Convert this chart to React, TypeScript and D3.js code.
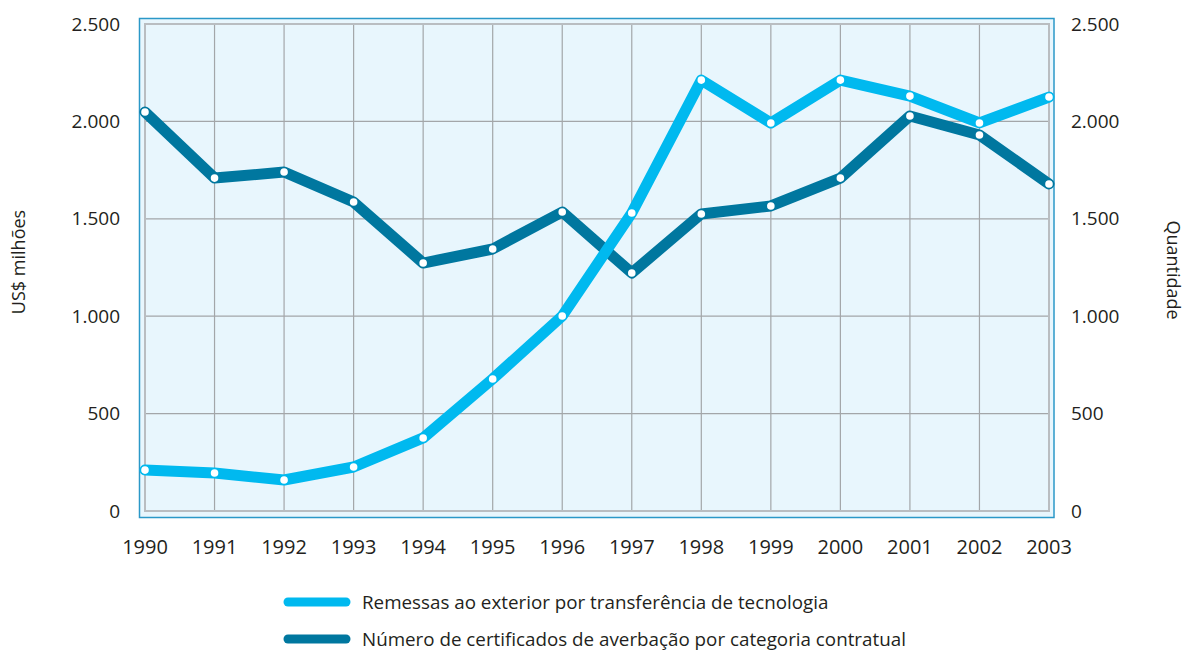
import React from "react";
import * as d3 from "d3";

const years = [1990, 1991, 1992, 1993, 1994, 1995, 1996, 1997, 1998, 1999, 2000, 2001, 2002, 2003];
const remessas = [210, 195, 159, 226, 375, 678, 1001, 1530, 2212, 1992, 2212, 2130, 1992, 2125];
const certificados = [2048, 1709, 1740, 1586, 1273, 1345, 1535, 1222, 1525, 1566, 1709, 2028, 1930, 1679];
const yTicks = [0, 500, 1000, 1500, 2000, 2500];
const seriesNames = [
  "Remessas ao exterior por transferência de tecnologia",
  "Número de certificados de averbação por categoria contratual",
];

const W = 1186;
const H = 651;
const left = 145, right = 1049, top = 24, bottom = 511;
const LIGHT = "#00b9ef";
const DARK = "#00779f";
const FONT = "'Open Sans', sans-serif";
const TEXT = "#231f20";

export default function App() {
  const x = d3.scaleLinear().domain([1990, 2003]).range([left, right]);
  const y = d3.scaleLinear().domain([0, 2500]).range([bottom, top]);
  const fmt = (v: number) => d3.format(",")(v).replace(/,/g, ".");
  const line = d3
    .line<number>()
    .x((_, i) => x(years[i]))
    .y((d) => y(d));

  const series = [
    { data: certificados, color: DARK },
    { data: remessas, color: LIGHT },
  ];

  return (
    <svg width={W} height={H} style={{ position: "absolute", left: 0, top: 0 }} fontFamily={FONT}>
      <rect x={139.5} y={18.5} width={1054 - 139.5} height={517.5 - 18.5} fill="#e8f6fd" stroke="#2b98c8" strokeWidth={1.5} />
      {years.map((yr) => (
        <line key={yr} x1={x(yr)} x2={x(yr)} y1={top} y2={bottom} stroke="#a3a6a9" strokeWidth={1.2} />
      ))}
      {yTicks.map((t) => (
        <line key={t} x1={left} x2={right} y1={y(t)} y2={y(t)} stroke="#a3a6a9" strokeWidth={1.2} />
      ))}
      <rect x={left} y={top} width={right - left} height={bottom - top} fill="none" stroke="#b9bdc1" strokeWidth={2} />
      {yTicks.map((t) => (
        <g key={"l" + t} fontSize={19} fill={TEXT}>
          <text x={120} y={y(t)} dy="0.35em" textAnchor="end">{fmt(t)}</text>
          <text x={1071} y={y(t)} dy="0.35em" textAnchor="start">{fmt(t)}</text>
        </g>
      ))}
      {years.map((yr) => (
        <text key={"x" + yr} x={x(yr)} y={547} dy="0.35em" textAnchor="middle" fontSize={20} fill={TEXT}>{yr}</text>
      ))}
      <text transform="translate(19,262) rotate(-90)" textAnchor="middle" dy="0.35em" fontSize={18} fill={TEXT}>US$ milhões</text>
      <text transform="translate(1173,270) rotate(90)" textAnchor="middle" dy="0.35em" fontSize={18} fill={TEXT}>Quantidade</text>
      {series.map((s, si) => (
        <g key={si}>
          <path d={line(s.data) || ""} fill="none" stroke={s.color} strokeWidth={11} strokeLinejoin="round" strokeLinecap="round" />
          {s.data.map((v, i) => (
            <circle key={i} cx={x(years[i])} cy={y(v)} r={3.8} fill="#fff" />
          ))}
        </g>
      ))}
      {[LIGHT, DARK].map((c, i) => (
        <g key={"leg" + i}>
          <line x1={288} x2={346} y1={602 + i * 37} y2={602 + i * 37} stroke={c} strokeWidth={9} strokeLinecap="round" />
          <text x={362} y={602 + i * 37} dy="0.35em" fontSize={18.8} fill={TEXT}>{seriesNames[i]}</text>
        </g>
      ))}
    </svg>
  );
}
